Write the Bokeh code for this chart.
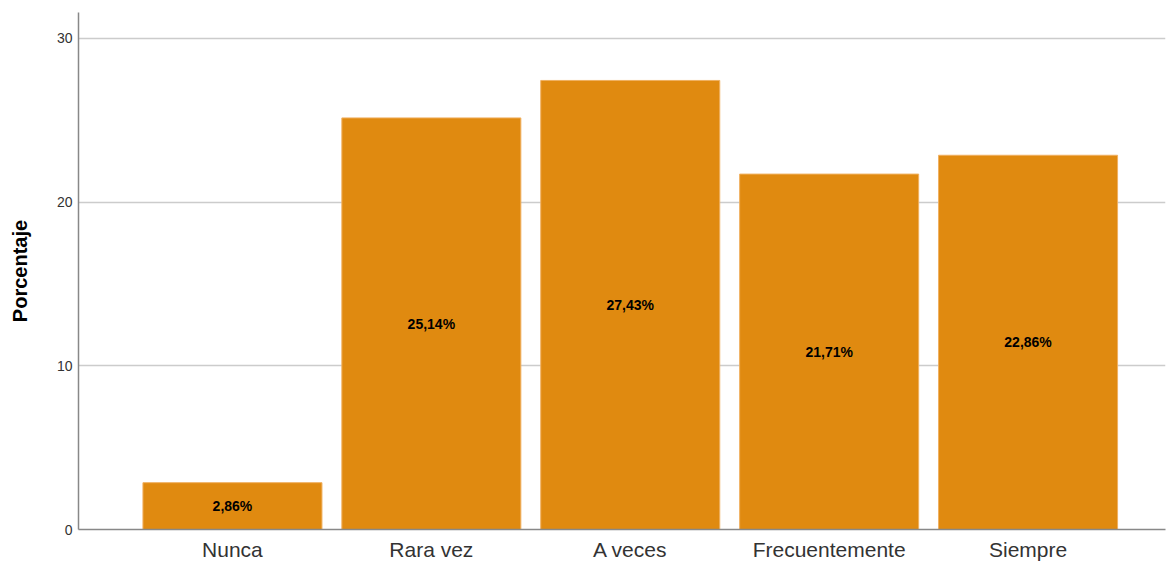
from bokeh.plotting import figure
from bokeh.models import ColumnDataSource, Range1d, FixedTicker
from bokeh.embed import file_html
from bokeh.resources import INLINE
from bokeh.core.properties import value

categories = ["Nunca", "Rara vez", "A veces", "Frecuentemente", "Siempre"]
percentages = [2.86, 25.14, 27.43, 21.71, 22.86]
y_ticks = [0, 10, 20, 30]

xs = list(range(1, len(categories) + 1))
labels = [f"{v:.2f}".replace(".", ",") + "%" for v in percentages]
mids = [v / 2 for v in percentages]
src = ColumnDataSource(dict(x=xs, top=percentages, label=labels, mid=mids))

p = figure(width=1167, height=563, output_backend="svg", toolbar_location=None,
           x_range=Range1d(0.226, 5.691), y_range=Range1d(0, 31.58),
           min_border_left=78, min_border_right=2, min_border_top=12, min_border_bottom=30)
p.outline_line_color = None
p.background_fill_color = "white"

p.vbar(x="x", top="top", width=0.9, bottom=0, source=src,
       fill_color="#E08A10", line_color="#F0B060", line_width=1)
p.text(x="x", y="mid", text="label", source=src, text_align="center", text_baseline="middle",
       text_font=value("Liberation Sans"), text_font_style="bold", text_font_size="14px",
       text_color="black")

p.xaxis.ticker = FixedTicker(ticks=xs)
p.xaxis.major_label_overrides = {x: c for x, c in zip(xs, categories)}
p.xaxis.major_label_text_font = "Liberation Sans"
p.xaxis.major_label_text_font_size = "21px"
p.xaxis.major_label_text_color = "#333333"
p.xaxis.major_label_standoff = 8
p.xaxis.major_tick_line_color = None
p.xaxis.major_tick_out = 0
p.xaxis.major_tick_in = 0
p.xaxis.minor_tick_line_color = None
p.xaxis.axis_line_color = "#888888"
p.xaxis.axis_line_width = 1.5

p.yaxis.ticker = FixedTicker(ticks=y_ticks)
p.yaxis.major_label_text_font = "Liberation Sans"
p.yaxis.major_label_text_font_size = "14px"
p.yaxis.major_label_text_color = "#333333"
p.yaxis.major_label_standoff = 6
p.yaxis.major_tick_line_color = None
p.yaxis.major_tick_out = 0
p.yaxis.major_tick_in = 0
p.yaxis.minor_tick_line_color = None
p.yaxis.axis_line_color = "#888888"
p.yaxis.axis_line_width = 1.5
p.yaxis.axis_label = "Porcentaje"
p.yaxis.axis_label_text_font = "Liberation Sans"
p.yaxis.axis_label_text_font_style = "bold"
p.yaxis.axis_label_text_font_size = "20px"
p.yaxis.axis_label_text_color = "black"
p.yaxis.axis_label_standoff = 23

p.xgrid.grid_line_color = None
p.ygrid.ticker = FixedTicker(ticks=y_ticks)
p.ygrid.grid_line_color = "#CCCCCC"
p.ygrid.grid_line_width = 1.5

open("out.html", "w").write(file_html(p, INLINE))
